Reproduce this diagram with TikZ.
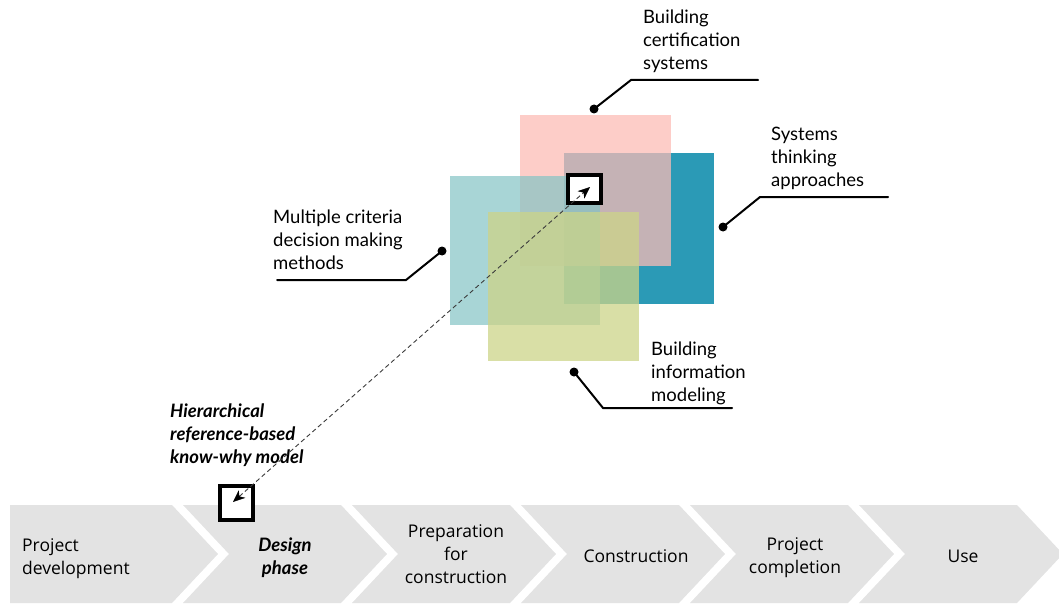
\documentclass[tikz,border=0pt]{standalone}
\usepackage{fontspec}
\setmainfont{Lato}
\newfontfamily\chevfont{Open Sans}
\usetikzlibrary{arrows.meta}
\definecolor{pinkc}{RGB}{252,187,181}
\definecolor{bluec}{RGB}{43,154,182}
\definecolor{tealc}{RGB}{131,195,196}
\definecolor{yelc}{RGB}{204,212,136}
\definecolor{chevgray}{RGB}{227,227,227}
\definecolor{dashc}{RGB}{60,60,60}
\newcommand\fst{\rule{0pt}{14pt}}
\tikzset{
  lbl/.style={font=\fontsize{18.5}{23}\selectfont, anchor=north west, inner sep=0pt, align=left},
  chev/.style={font=\chevfont\fontsize{17.5}{23}\selectfont, inner sep=0pt, align=center, anchor=north},
  chevshape/.style={fill=chevgray},
  leader/.style={line width=2pt, line cap=round},
  dotc/.style={fill=black},
  kbox/.style={draw, line width=4pt, fill=white, inner sep=0pt},
  knowline/.style={draw=dashc, dash pattern=on 4.5pt off 3pt, line width=0.9pt,
    {Stealth[length=12pt,width=10pt,inset=3.5pt,fill=black,color=black,line width=0.5pt,sep=0pt]}-{Stealth[length=12pt,width=10pt,inset=3.5pt,fill=black,color=black,line width=0.5pt]}}
}
\begin{document}
\begin{tikzpicture}[x=1pt,y=-1pt]
\useasboundingbox (0,0) rectangle (1059,607);
\begin{scope}
\clip (0,0) rectangle (1059,607);
% chevrons
\fill[chevshape] (10,505) -- (172,505) -- (218,554) -- (172,603) -- (10,603) -- cycle;
\foreach \i in {1,...,5}{
  \pgfmathsetmacro{\a}{183+(\i-1)*169}
  \pgfmathsetmacro{\b}{172+\i*169}
  \fill[chevshape] (\a,505) -- (\b,505) -- (\b+46,554) -- (\b,603) -- (\a,603) -- (\a+46,554) -- cycle;
}
\end{scope}
% chevron labels
\node[chev, anchor=north west, align=left] (c1) at (22,537) {\fst Project\\development};
\node[chev, font=\fontsize{18.5}{23}\selectfont\bfseries\itshape] (c2) at (285,537) {\fst Design\\phase};
\node[chev] (c3) at (456,523) {\fst Preparation\\for\\construction};
\node[chev] (c4) at (636,548) {\fst Construction};
\node[chev] (c5) at (795,536) {\fst Project\\completion};
\node[chev] (c6) at (963,548) {\fst Use};
% squares
\fill[bluec] (564,153) rectangle (714,304);
\fill[pinkc, fill opacity=0.74] (520,115) rectangle (671,266);
\fill[tealc, fill opacity=0.7] (450,176) rectangle (600,325);
\fill[yelc, fill opacity=0.75] (488,212) rectangle (639,361);
% labels
\node[lbl] (bcs) at (643,9) {\fst Building\\certification\\systems};
\node[lbl] (sta) at (771,126) {\fst Systems\\thinking\\approaches};
\node[lbl] (mcdm) at (273,209) {\fst Multiple criteria\\decision making\\methods};
\node[lbl] (bim) at (651,341) {\fst Building\\information\\modeling};
\node[lbl, font=\fontsize{18.5}{23}\selectfont\bfseries\itshape] (hrk) at (170,403) {\fst Hierarchical\\reference-based\\know-why model};
% leaders
\coordinate (d1) at (594,109); \coordinate (b1) at (631,80); \coordinate (e1) at (758,80);
\coordinate (d2) at (723,227); \coordinate (b2) at (760,197); \coordinate (e2) at (888,197);
\coordinate (d3) at (442,251); \coordinate (b3) at (406,280); \coordinate (e3) at (277,280);
\coordinate (d4) at (574,372); \coordinate (b4) at (603,408); \coordinate (e4) at (732,408);
\draw[leader] (d1) -- (b1) -- (e1);
\draw[leader] (d2) -- (b2) -- (e2);
\draw[leader] (d3) -- (b3) -- (e3);
\draw[leader] (d4) -- (b4) -- (e4);
\foreach \d in {d1,d2,d3,d4}{\fill[dotc] (\d) circle (4.5pt);}
% know-why boxes
\node[kbox, minimum width=33pt, minimum height=28pt] (tbox) at (584,189) {};
\node[kbox, minimum width=33pt, minimum height=34pt] (bbox) at (236.5,503) {};
\coordinate (ta) at (590,187);
\coordinate (ba) at (233,502);
\draw[knowline] (ba) -- (ta);
\end{tikzpicture}
\end{document}
